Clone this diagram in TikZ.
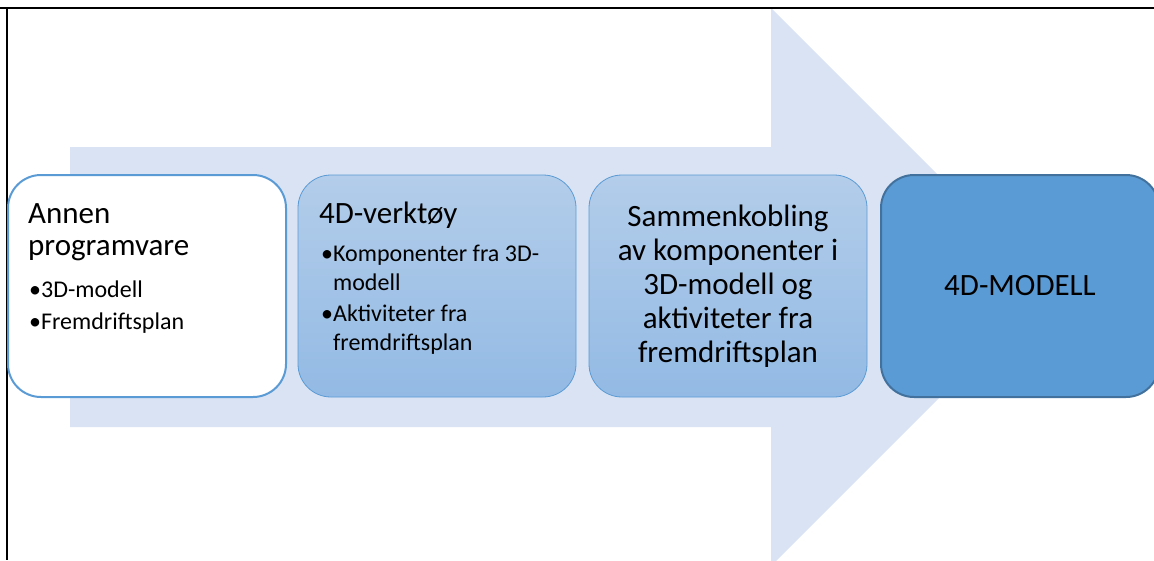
\documentclass[tikz,border=0pt]{standalone}
\usepackage{fontspec}
\setmainfont{Carlito}
\usetikzlibrary{positioning}

\definecolor{pilfarge}{RGB}{218,227,243}
\definecolor{kant}{RGB}{91,155,213}
\definecolor{mork}{RGB}{65,113,156}
\definecolor{lystopp}{RGB}{179,205,234}
\definecolor{lysbunn}{RGB}{147,186,228}

\begin{document}
\begin{tikzpicture}[x=1pt, y=-1pt,
    boks/.style={rectangle, rounded corners=33pt, minimum width=278pt,
        minimum height=222pt, inner sep=0pt},
    hvit/.style={boks, draw=kant, line width=2pt, fill=white},
    lys/.style={boks, draw=kant, line width=0.8pt, top color=lystopp, bottom color=lysbunn},
    sterk/.style={boks, draw=mork, line width=2pt, fill=kant},
    tittel/.style={font=\fontsize{31}{32}\selectfont, inner sep=0pt},
    punkt/.style={font=\fontsize{24}{29}\selectfont, inner sep=0pt, align=left},
    midt/.style={font=\fontsize{31}{34}\selectfont, inner sep=0pt, align=center}]

    % rammen
    \useasboundingbox (0,0) rectangle (1154,560);
    \clip (0,0) rectangle (1154,560);

    % parametre for pila
    \def\venstre{70}   % pilas bakkant
    \def\hals{771}     % der pilhodet starter
    \def\spiss{1050}   % pilspissen
    \def\midty{287}    % midtlinje
    \def\kropp{140}    % halv kroppshoyde

    % stor bakgrunnspil
    \fill[pilfarge] (\venstre,\midty-\kropp) -- (\hals,\midty-\kropp) -- (\hals,8)
        -- (\spiss,\midty) -- (\hals,566) -- (\hals,\midty+\kropp)
        -- (\venstre,\midty+\kropp) -- cycle;

    \draw[line width=2pt] (0,8) -- (1154,8);
    \draw[line width=2pt] (7,7) -- (7,560);

    % boksene
    \node[hvit] (annen) at (147,286) {};
    \node[lys] (verktoy) at (437,286) {};
    \node[lys] (kobling) at (728,286) {};
    \node[sterk] (modell) at (1020,286) {};

    % tekst i boksene
    \node[tittel, anchor=base west] (annentittel) at (28,223) {Annen};
    \node[tittel, anchor=base west] (annentittel2) at (28,255) {programvare};
    \node[punkt, anchor=north west] (annenpunkt) at (29,281)
        {•3D-modell\\[3pt]•Fremdriftsplan};

    \node[tittel, anchor=base west] (verktoytittel) at (319,223) {4D-verktøy};
    \node[punkt, anchor=north west] (verktoypunkt) at (321,245)
        {•Komponenter fra 3D-\\\phantom{•}modell\\[2pt]•Aktiviteter fra\\\phantom{•}fremdriftsplan};

    \node[midt] (koblingtekst) at (kobling.center)
        {Sammenkobling\\av komponenter i\\3D-modell og\\aktiviteter fra\\fremdriftsplan};

    \node[tittel] (modelltekst) at (modell.center) {4D-MODELL};
\end{tikzpicture}
\end{document}
